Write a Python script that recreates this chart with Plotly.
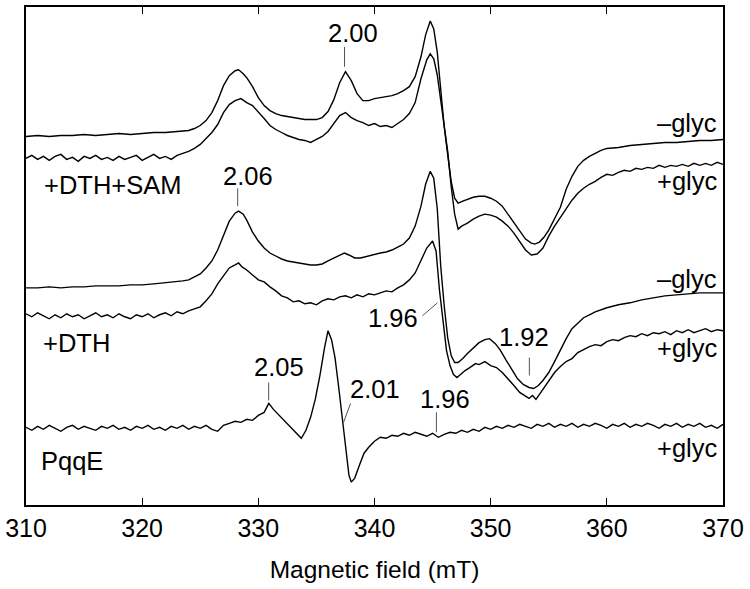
import plotly.graph_objects as go

# EPR spectra of PqqE: field (mT) and signal (arbitrary units, stacked)

# +DTH+SAM, -glyc
FIELD_SAM_MINUS = [
    310, 311, 312, 313, 314, 315, 316, 317, 318, 319,
    320, 321, 322, 323, 323.5, 324, 324.5, 325, 325.5, 326,
    326.5, 327, 327.5, 328, 328.3, 328.7, 329, 329.5, 330, 330.5,
    331, 331.5, 332, 332.5, 333, 333.5, 334, 334.5, 335, 335.5,
    336, 336.5, 337, 337.5, 338, 338.5, 339, 339.5, 340, 340.5,
    341, 341.5, 342, 342.5, 343, 343.5, 344, 344.4, 344.8, 345.1,
    345.4, 345.7, 346, 346.3, 346.6, 346.9, 347.2, 347.6, 348, 348.5,
    349, 349.5, 350, 350.5, 351, 351.5, 352, 352.5, 353, 353.5,
    353.8, 354.2, 354.6, 355, 355.5, 356, 356.5, 357, 357.5, 358,
    358.5, 359, 359.5, 360, 361, 362, 363, 364, 365, 366,
    367, 368, 369, 370]
SIG_SAM_MINUS = [
    370, 371, 370, 371, 371, 372, 371, 372, 373, 372,
    373, 374, 374, 375, 375, 376, 378, 381, 386, 394,
    406, 421, 431, 436, 437, 433, 429, 420, 409, 401,
    396, 393, 391, 390, 389, 388, 387, 387, 387, 389,
    395, 407, 424, 435, 426, 413, 406, 406, 408, 409,
    410, 411, 413, 416, 420, 430, 450, 472, 486, 478,
    455, 415, 380, 352, 325, 308, 303, 305, 307, 309,
    310, 310, 308, 305, 300, 292, 284, 275, 267, 263,
    262, 264, 269, 276, 287, 299, 317, 330, 340, 346,
    350, 353, 356, 358, 359, 361, 362, 363, 364, 364,
    365, 366, 366, 367]

# +DTH+SAM, +glyc
FIELD_SAM_PLUS = [
    310, 310.5, 311, 311.5, 312, 312.5, 313, 313.5, 314, 314.5,
    315, 315.5, 316, 316.5, 317, 317.5, 318, 318.5, 319, 319.5,
    320, 320.5, 321, 321.5, 322, 322.5, 323, 323.5, 324, 324.5,
    325, 325.5, 326, 326.5, 327, 327.5, 328, 328.5, 329, 329.5,
    330, 330.5, 331, 331.5, 332, 332.5, 333, 333.5, 334, 334.5,
    335, 335.5, 336, 336.5, 337, 337.5, 338, 338.5, 339, 339.5,
    340, 340.5, 341, 341.5, 342, 342.5, 343, 343.5, 344, 344.5,
    344.8, 345.1, 345.4, 345.7, 346, 346.3, 346.6, 346.9, 347.2, 347.5,
    348, 348.5, 349, 349.5, 350, 350.5, 351, 351.5, 352, 352.5,
    353, 353.5, 354, 354.5, 355, 355.5, 356, 356.5, 357, 357.5,
    358, 358.5, 359, 359.5, 360, 360.5, 361, 361.5, 362, 362.5,
    363, 363.5, 364, 364.5, 365, 365.5, 366, 366.5, 367, 367.5,
    368, 368.5, 369, 369.5, 370]
SIG_SAM_PLUS = [
    348, 351, 347, 350, 346, 350, 352, 347, 349, 345,
    350, 348, 351, 347, 349, 346, 350, 347, 349, 351,
    346, 349, 352, 348, 350, 347, 351, 353, 355, 358,
    362, 368, 374, 382, 394, 402, 406, 408, 404, 401,
    395, 388, 381, 377, 374, 371, 369, 367, 366, 364,
    367, 370, 375, 383, 391, 394, 389, 386, 384, 381,
    383, 380, 381, 379, 383, 387, 393, 404, 428, 447,
    453, 448, 432, 405, 380, 355, 320, 292, 277, 280,
    283, 287, 290, 292, 291, 289, 285, 280, 273, 264,
    256, 251, 252, 258, 270, 280, 289, 297, 306, 313,
    318, 322, 325, 329, 332, 331, 334, 336, 335, 338,
    337, 339, 338, 341, 339, 341, 340, 342, 340, 343,
    341, 343, 341, 344, 342]

# +DTH, -glyc
FIELD_DTH_MINUS = [
    310, 311, 312, 313, 314, 315, 316, 317, 318, 319,
    320, 321, 322, 323, 323.5, 324, 324.5, 325, 325.5, 326,
    326.5, 327, 327.5, 328, 328.3, 328.7, 329, 329.5, 330, 330.5,
    331, 331.5, 332, 332.5, 333, 333.5, 334, 334.5, 335, 335.5,
    336, 336.5, 337, 337.4, 337.8, 338.3, 338.8, 339.5, 340, 340.5,
    341, 341.5, 342, 342.5, 343, 343.5, 344, 344.4, 344.8, 345.1,
    345.4, 345.7, 346, 346.3, 346.6, 346.9, 347.2, 347.6, 348, 348.5,
    349, 349.5, 349.9, 350.4, 350.8, 351.3, 351.8, 352.3, 352.8, 353.3,
    353.7, 354.1, 354.5, 355, 355.5, 356, 356.5, 357, 357.5, 358,
    358.5, 359, 360, 361, 362, 363, 364, 365, 366, 367,
    368, 369, 370]
SIG_DTH_MINUS = [
    218, 218, 219, 218, 219, 219, 220, 220, 220, 221,
    221, 222, 223, 224, 225, 226, 229, 232, 238, 245,
    256, 271, 285, 293, 295, 292, 286, 274, 265, 258,
    253, 250, 247, 245, 244, 243, 242, 241, 241, 242,
    245, 248, 251, 253, 251, 248, 248, 250, 252, 253,
    254, 256, 259, 262, 268, 280, 300, 322, 335, 328,
    298, 240, 200, 168, 150, 143, 143, 147, 152, 158,
    163, 166, 167, 162, 156, 146, 136, 127, 121, 118,
    117, 120, 125, 133, 144, 156, 167, 177, 183, 188,
    191, 194, 198, 201, 203, 206, 208, 210, 211, 212,
    213, 213, 213]

# +DTH, +glyc
FIELD_DTH_PLUS = [
    310, 310.5, 311, 311.5, 312, 312.5, 313, 313.5, 314, 314.5,
    315, 315.5, 316, 316.5, 317, 317.5, 318, 318.5, 319, 319.5,
    320, 320.5, 321, 321.5, 322, 322.5, 323, 323.5, 324, 324.5,
    325, 325.5, 326, 326.5, 327, 327.5, 328,
    328.3, 328.6,
    329, 329.5, 330, 330.5, 331, 331.5, 332, 332.5, 333, 333.5,
    334, 334.5, 335, 335.5, 336, 336.5, 337, 337.5, 338, 338.5,
    339, 339.5, 340, 340.5, 341, 341.5, 342, 342.5, 343, 343.5,
    344, 344.5, 345,
    345.3, 345.6, 345.9, 346.2, 346.5, 346.8, 347.1, 347.4, 347.8, 348.2, 348.7,
    349, 349.5, 350, 350.5, 351, 351.5, 352, 352.5, 353,
    353.3, 353.6, 353.9, 354.2, 354.6,
    355, 355.5, 356, 356.5, 357, 357.5, 358, 358.5, 359, 359.5,
    360, 360.5, 361, 361.5, 362, 362.5, 363, 363.5, 364, 364.5,
    365, 365.5, 366, 366.5, 367, 367.5, 368, 368.5, 369, 369.5,
    370]
SIG_DTH_PLUS = [
    192, 189, 193, 190, 187, 191, 188, 192, 189, 191,
    187, 190, 193, 189, 191, 188, 192, 189, 187, 191,
    189, 192, 188, 191, 193, 190, 194, 192, 195, 197,
    199, 205, 212, 222, 230, 238, 241,
    243, 239,
    236, 231, 226, 224, 219, 215, 210, 208, 204, 205,
    202, 203, 201, 205, 207, 206, 209, 210, 208, 211,
    209, 212, 211, 213, 215, 214, 218, 221, 226, 233,
    246, 258, 265,
    255, 215, 185, 155, 140, 131, 128, 131, 135, 138, 142,
    141, 144, 140, 138, 133, 127, 120, 113, 109,
    107, 110, 106, 111, 118,
    124, 133, 139, 144, 147, 153, 156, 159, 161, 160,
    164, 166, 165, 168, 170, 169, 172, 170, 173, 172,
    174, 171, 175, 173, 176, 173, 175, 177, 174, 176,
    175]

# PqqE as isolated, +glyc
FIELD_PQQE = [
    310, 310.5, 311, 311.5, 312, 312.5, 313, 313.5, 314, 314.5,
    315, 315.5, 316, 316.5, 317, 317.5, 318, 318.5, 319, 319.5,
    320, 320.5, 321, 321.5, 322, 322.5, 323, 323.5, 324, 324.5,
    325, 325.5, 326, 326.5, 327, 327.5, 328, 328.5, 329, 329.5,
    330, 330.5,
    330.9, 331.3, 331.8, 332.3, 332.8, 333.3, 333.7, 334.1, 334.5, 334.9,
    335.3, 335.7, 336, 336.3, 336.6, 336.9, 337.2, 337.5, 337.8, 338,
    338.3, 338.7, 339.1, 339.5,
    340, 340.5, 341, 341.5, 342, 342.5, 343, 343.5, 344, 344.5,
    345, 345.5, 346, 346.5, 347, 347.5, 348, 348.5, 349, 349.5,
    350, 350.5, 351, 351.5, 352, 352.5, 353, 353.5, 354, 354.5,
    355, 355.5, 356, 356.5, 357, 357.5, 358, 358.5, 359, 359.5,
    360, 360.5, 361, 361.5, 362, 362.5, 363, 363.5, 364, 364.5,
    365, 365.5, 366, 366.5, 367, 367.5, 368, 368.5, 369, 369.5,
    370]
SIG_PQQE = [
    78, 75, 79, 76, 80, 77, 74, 78, 80, 76,
    79, 77, 75, 79, 77, 80, 76, 78, 75, 79,
    77, 80, 76, 78, 75, 79, 77, 80, 76, 79,
    77, 80, 76, 74, 80, 82, 84, 83, 86, 85,
    90, 93,
    102, 96, 90, 84, 78, 71, 67, 75, 88, 106,
    130, 158, 175, 166, 148, 120, 90, 58, 30, 23,
    27, 40, 52, 58,
    64, 68, 67, 70, 69, 72, 70, 73, 71, 69,
    72, 68, 71, 73, 72, 75, 73, 76, 74, 78,
    76, 79, 77, 80, 78, 81, 79, 77, 81, 79,
    82, 78, 81, 79, 82, 78, 81, 79, 82, 80,
    77, 81, 79, 82, 78, 81, 79, 82, 80, 77,
    81, 79, 82, 78, 81, 79, 82, 78, 80, 77,
    81]

XTICKS = [310, 320, 330, 340, 350, 360, 370]

FONT = "Liberation Sans, Arial, Helvetica, sans-serif"

fig = go.Figure()
for fx, sy in [(FIELD_SAM_MINUS, SIG_SAM_MINUS), (FIELD_SAM_PLUS, SIG_SAM_PLUS),
               (FIELD_DTH_MINUS, SIG_DTH_MINUS), (FIELD_DTH_PLUS, SIG_DTH_PLUS),
               (FIELD_PQQE, SIG_PQQE)]:
    fig.add_trace(go.Scatter(x=fx, y=sy, mode="lines",
                             line=dict(color="black", width=1.4),
                             showlegend=False, hoverinfo="skip"))

# trace labels
labels = [
    (311.4, 321, "+DTH+SAM", "left"),
    (311.25, 163, "+DTH", "left"),
    (311.1, 44, "PqqE", "left"),
    (369.66, 384, "\u2013glyc", "right"),
    (369.66, 325.5, "+glyc", "right"),
    (369.66, 226.5, "\u2013glyc", "right"),
    (369.66, 157.5, "+glyc", "right"),
    (369.66, 57.5, "+glyc", "right"),
]
for x, y, t, anc in labels:
    fig.add_annotation(x=x, y=y, text=t, showarrow=False, xanchor=anc,
                       yanchor="middle", font=dict(size=25.5, color="black"))

# g-values with leader lines
gvals = [
    (338.11, 474, "2.00", (337.42, 460, 337.42, 440)),
    (329.08, 330, "2.06", (328.22, 318, 328.22, 300)),
    (341.63, 187.5, "1.96", (344.13, 190, 345.42, 203)),
    (331.75, 138.5, "2.05", (330.89, 123, 330.89, 105)),
    (340.0, 116.5, "2.01", (337.94, 102, 337.34, 83)),
    (346.1, 106.5, "1.96", (345.33, 93, 345.33, 73)),
    (352.9, 168.5, "1.92", (353.33, 148, 353.33, 130)),
]
for x, y, t, (x0, y0, x1, y1) in gvals:
    fig.add_annotation(x=x, y=y, text=t, showarrow=False, xanchor="center",
                       yanchor="middle", font=dict(size=25.5, color="black"))
    fig.add_shape(type="line", x0=x0, y0=y0, x1=x1, y1=y1,
                  line=dict(color="#555555", width=1))

fig.update_layout(
    width=750, height=589,
    margin=dict(l=25, r=27, t=5, b=84),
    paper_bgcolor="white", plot_bgcolor="white",
    font=dict(family=FONT, color="black"),
)
fig.update_xaxes(
    range=[310, 370], tickvals=XTICKS, ticks="inside", ticklen=7,
    tickwidth=1.3, tickcolor="black", showline=True, linecolor="black",
    linewidth=1.5, mirror="ticks", showgrid=False, zeroline=False,
    tickfont=dict(size=25),
    title=dict(text="Magnetic field (mT)", font=dict(size=24.5), standoff=20),
)
fig.update_yaxes(
    range=[0, 500], showticklabels=False, ticks="", showgrid=False,
    zeroline=False, showline=True, linecolor="black", linewidth=1.5,
    mirror=True,
)

fig.write_html("out.html", config={"displayModeBar": False},
               post_script="document.body.style.margin='0px';")
